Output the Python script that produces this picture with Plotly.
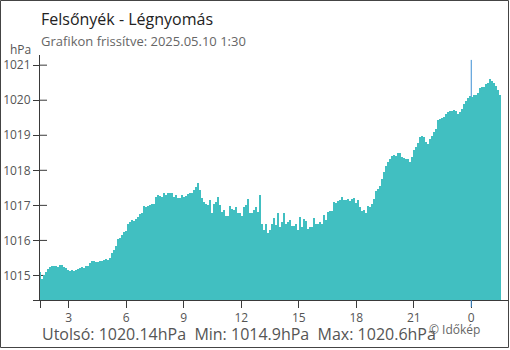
import plotly.graph_objects as go
import pandas as pd

# ---- data ----
start = "2025-05-09 01:30"
end = "2025-05-10 01:30"
pressure = [
    1015.09, 1014.90, 1015.01, 1015.09, 1015.18, 1015.24, 1015.28, 1015.28, 1015.27, 1015.24,
    1015.31, 1015.31, 1015.24, 1015.22, 1015.17, 1015.12, 1015.15, 1015.14, 1015.15, 1015.18,
    1015.21, 1015.25, 1015.21, 1015.27, 1015.27, 1015.35, 1015.42, 1015.41, 1015.38, 1015.39,
    1015.42, 1015.41, 1015.44, 1015.47, 1015.45, 1015.51, 1015.64, 1015.72, 1015.84, 1016.04,
    1016.06, 1016.15, 1016.24, 1016.28, 1016.46, 1016.53, 1016.57, 1016.54, 1016.60, 1016.67,
    1016.74, 1016.79, 1016.97, 1016.95, 1016.98, 1017.01, 1017.04, 1017.05, 1017.23, 1017.29,
    1017.26, 1017.23, 1017.34, 1017.31, 1017.35, 1017.35, 1017.35, 1017.24, 1017.29, 1017.21,
    1017.22, 1017.31, 1017.23, 1017.28, 1017.33, 1017.36, 1017.36, 1017.43, 1017.52, 1017.64,
    1017.43, 1017.20, 1017.10, 1017.05, 1017.01, 1017.15, 1016.77, 1017.03, 1017.10, 1017.24,
    1017.01, 1016.80, 1016.86, 1016.69, 1016.69, 1016.98, 1016.91, 1016.86, 1016.96, 1016.79,
    1016.77, 1016.69, 1016.96, 1017.01, 1017.17, 1016.77, 1016.79, 1016.88, 1016.96, 1016.81,
    1017.29, 1016.46, 1016.31, 1016.46, 1016.20, 1016.31, 1016.48, 1016.63, 1016.44, 1016.79,
    1016.37, 1016.53, 1016.77, 1016.48, 1016.53, 1016.58, 1016.41, 1016.41, 1016.46, 1016.29,
    1016.67, 1016.39, 1016.60, 1016.56, 1016.34, 1016.39, 1016.39, 1016.63, 1016.48, 1016.48,
    1016.53, 1016.48, 1016.72, 1016.58, 1016.81, 1016.84, 1016.84, 1017.10, 1017.07, 1017.13,
    1017.15, 1017.23, 1017.15, 1017.15, 1017.18, 1017.12, 1017.18, 1017.20, 1017.08, 1017.15,
    1016.96, 1016.84, 1016.88, 1016.79, 1016.98, 1016.96, 1017.05, 1017.18, 1017.41, 1017.48,
    1017.55, 1017.75, 1017.96, 1018.12, 1018.23, 1018.31, 1018.42, 1018.43, 1018.41, 1018.50,
    1018.50, 1018.38, 1018.35, 1018.31, 1018.33, 1018.23, 1018.38, 1018.57, 1018.67, 1018.78,
    1018.95, 1018.97, 1018.94, 1018.80, 1018.74, 1018.89, 1018.98, 1019.09, 1019.17, 1019.43,
    1019.46, 1019.48, 1019.52, 1019.62, 1019.65, 1019.69, 1019.69, 1019.72, 1019.69, 1019.61,
    1019.65, 1019.76, 1019.88, 1019.97, 1020.07, 1020.11, 1020.10, 1020.16, 1020.16, 1020.22,
    1020.35, 1020.37, 1020.37, 1020.45, 1020.48, 1020.60, 1020.54, 1020.49, 1020.41, 1020.28,
    1020.14,
]
tick_times = ["2025-05-09 03:00", "2025-05-09 06:00", "2025-05-09 09:00", "2025-05-09 12:00",
              "2025-05-09 15:00", "2025-05-09 18:00", "2025-05-09 21:00", "2025-05-10 00:00"]
tick_labels = ["3", "6", "9", "12", "15", "18", "21", "0"]
y_ticks = [1015, 1016, 1017, 1018, 1019, 1020, 1021]
midnight = "2025-05-10 00:00"
last_val, min_val, max_val = 1020.14, 1014.9, 1020.6
title = "Felsőnyék - Légnyomás"
subtitle = "Grafikon frissítve: 2025.05.10 1:30"

# ---- layout geometry ----
W, H = 510, 350
ML, MR, MT, MB = 40, 2, 55, 50
PW, PH = W - ML - MR, H - MT - MB
Y0, Y1 = 1014.30, 1021.29

times = pd.date_range(start, end, periods=len(pressure))
step = times[1] - times[0]
px_dur = (times[-1] - times[0]) / 460
x0 = pd.Timestamp(start)
x1 = x0 + px_dur * PW

def px(x):
    return (x - ML) / PW

def py(y):
    return (H - MB - y) / PH

FONT = "Open Sans"
BAR = "#41bfc1"
AX = "#3a3a3a"
TXT = "#555555"

fig = go.Figure()
fig.add_bar(x=times, y=pressure, width=step.total_seconds() * 1000,
            marker=dict(color=BAR, line=dict(width=0)), hoverinfo="skip")

shapes = []
# day separator line (behind bars)
shapes.append(dict(type="line", xref="x", yref="y", x0=midnight, x1=midnight,
                   y0=Y0, y1=1021.15, line=dict(color="#3d8fd4", width=1), layer="below"))
# blue tick under axis for midnight
shapes.append(dict(type="line", xref="x", yref="paper", x0=midnight, x1=midnight,
                   y0=0, y1=-7 / PH, line=dict(color="#3d8fd4", width=1)))
# inside halves of y ticks
for v in y_ticks:
    shapes.append(dict(type="line", xref="paper", yref="y", x0=0, x1=7 / PW, y0=v, y1=v,
                       line=dict(color=AX, width=1), layer="below"))
# outer frame
shapes.append(dict(type="rect", xref="paper", yref="paper",
                   x0=px(0.5), x1=px(508.5), y0=py(0.5), y1=py(347.5),
                   line=dict(color="#444444", width=1)))

ann = []
ann.append(dict(text=title, xref="paper", yref="paper", x=px(39), y=py(18.5),
                xanchor="left", yanchor="middle", showarrow=False,
                font=dict(family=FONT, size=16, color="#222222")))
ann.append(dict(text=subtitle, xref="paper", yref="paper", x=px(39), y=py(41),
                xanchor="left", yanchor="middle", showarrow=False,
                font=dict(family=FONT, size=13, color="#666666")))
ann.append(dict(text="hPa", xref="paper", yref="paper", x=px(33), y=py(50),
                xanchor="right", yanchor="middle", showarrow=False,
                font=dict(family=FONT, size=12, color=TXT)))
bottom = f"Utolsó: {last_val:.2f}hPa  Min: {min_val}hPa  Max: {max_val}hPa"
ann.append(dict(text=bottom.replace("  ", "&nbsp;&nbsp;"), xref="paper", yref="paper",
                x=px(40), y=py(334), xanchor="left", yanchor="middle", showarrow=False,
                font=dict(family=FONT, size=16, color=TXT)))
ann.append(dict(text="© Időkép", xref="paper", yref="paper", x=px(482), y=py(329),
                xanchor="right", yanchor="middle", showarrow=False,
                font=dict(family=FONT, size=12, color="#666666")))

fig.update_layout(
    width=W, height=H, margin=dict(l=ML, r=MR, t=MT, b=MB, pad=0),
    paper_bgcolor="white", plot_bgcolor="white", showlegend=False, bargap=0,
    font=dict(family=FONT, color=TXT),
    shapes=shapes, annotations=ann,
    xaxis=dict(type="date", range=[x0, x1], tickvals=tick_times + [x0],
               ticktext=tick_labels + [""], ticks="outside", ticklen=7, tickcolor=AX,
               showline=True, linecolor=AX, linewidth=1, showgrid=False, zeroline=False,
               tickfont=dict(family=FONT, size=12, color=TXT), fixedrange=True),
    yaxis=dict(range=[Y0, Y1], tickvals=y_ticks + [Y0],
               ticktext=[str(v) for v in y_ticks] + [""], ticks="outside", ticklen=6,
               tickcolor=AX, showline=True, linecolor=AX, linewidth=1, showgrid=False,
               zeroline=False, tickfont=dict(family=FONT, size=12, color=TXT), fixedrange=True),
)

fig.write_html("out.html")
